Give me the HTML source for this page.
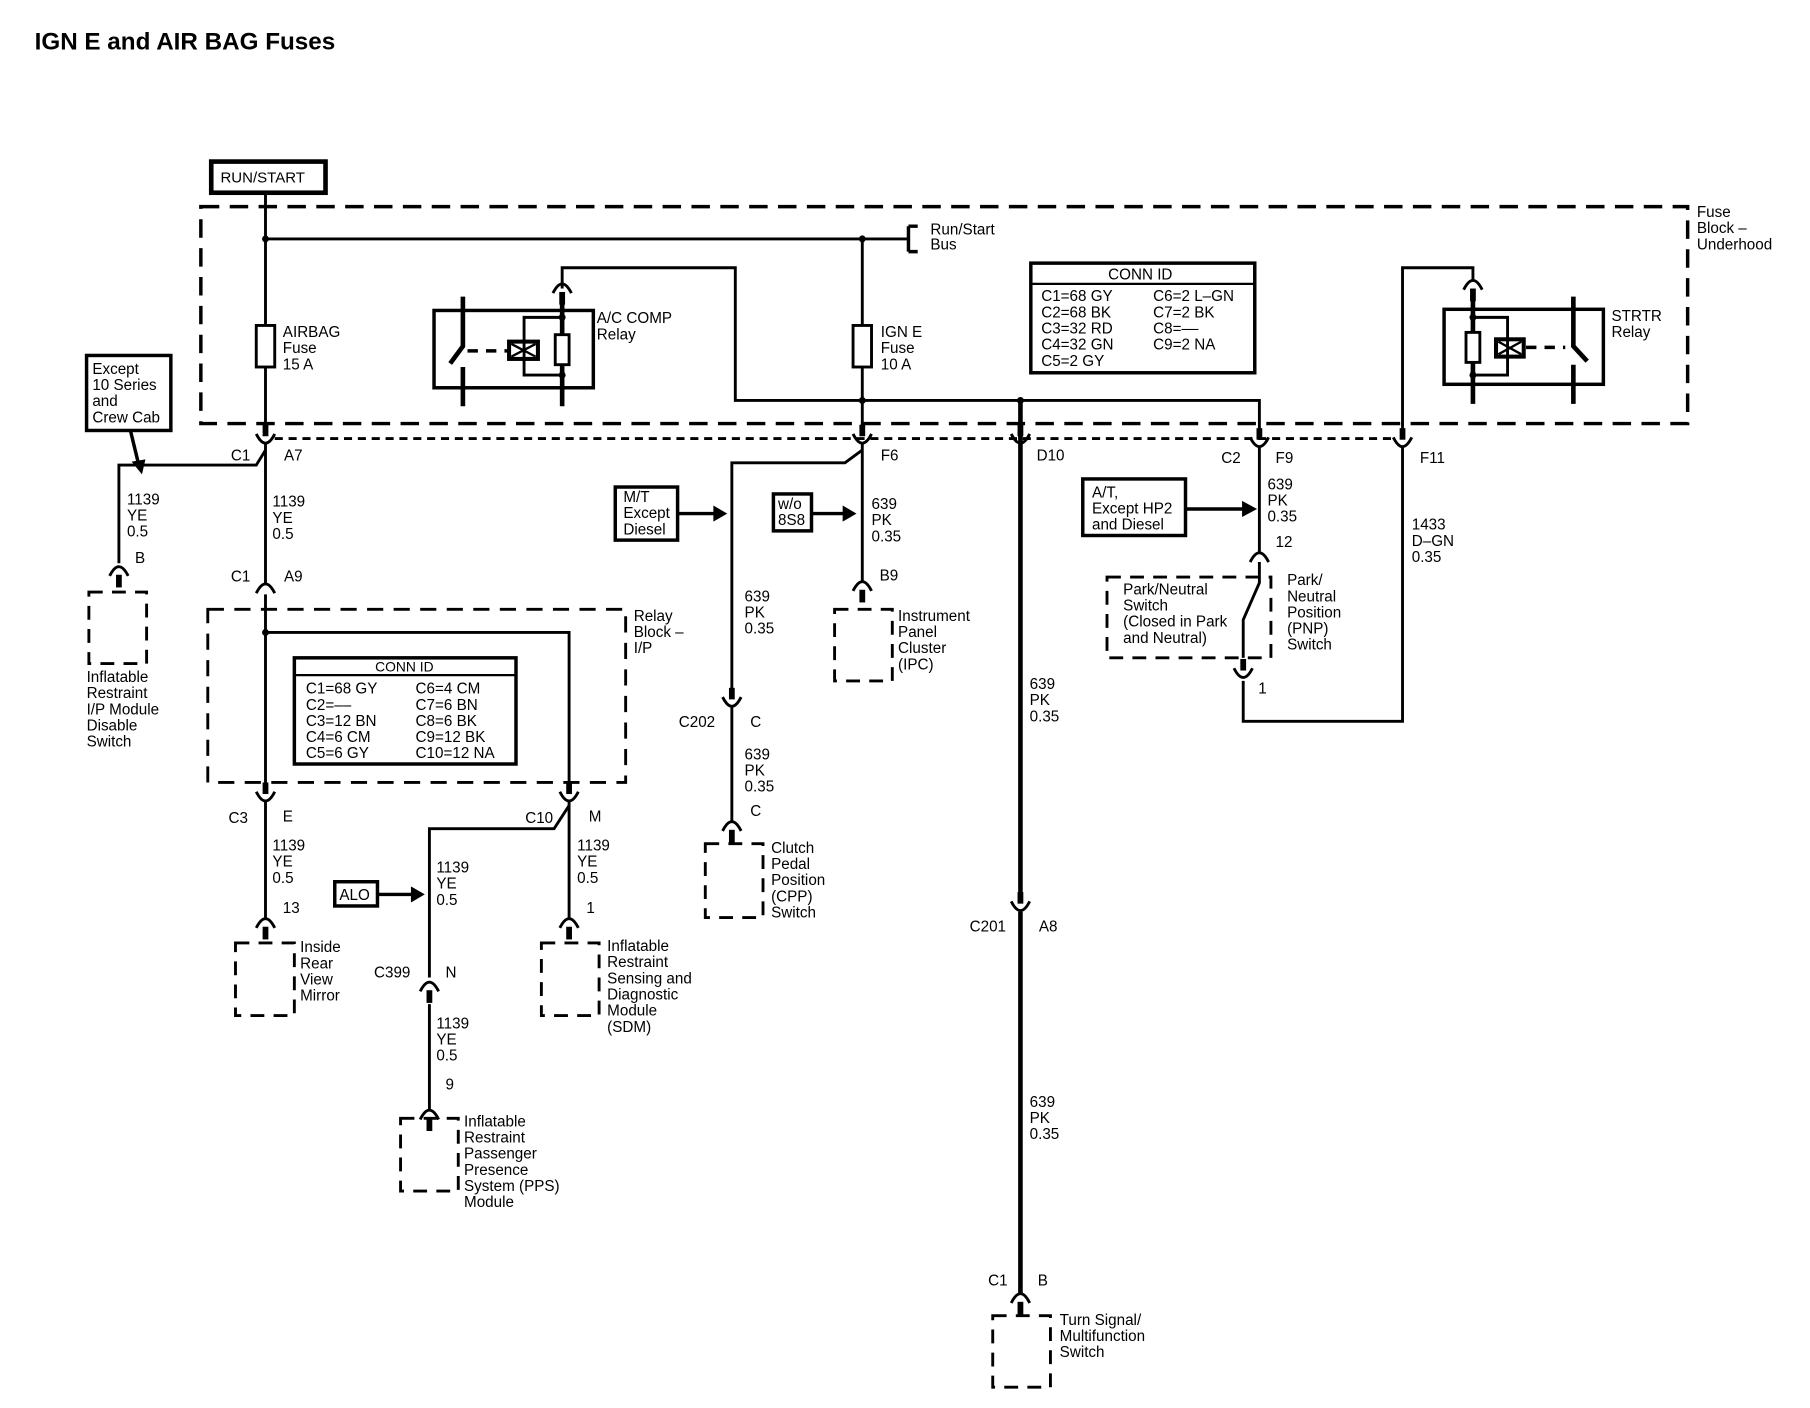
<!DOCTYPE html>
<html><head><meta charset="utf-8"><style>
html,body{margin:0;padding:0;background:#fff;}
svg{display:block;}
text{font-family:"Liberation Sans",sans-serif;font-size:13.2px;fill:#000;}
</style></head><body>
<svg width="1810" height="1408" viewBox="0 0 1568 1220" preserveAspectRatio="none" xmlns="http://www.w3.org/2000/svg">
<defs>
<g id="m"><rect x="-2.5" y="-12" width="5" height="10" fill="#000"/><path d="M-8,-4 Q0,12 8,-4" fill="none" stroke="#000" stroke-width="2.5"/></g>
<g id="f"><path d="M-8,4 Q0,-12 8,4" fill="none" stroke="#000" stroke-width="2.5"/><rect x="-2.5" y="3" width="5" height="11" fill="#000"/></g>
<g id="fa"><path d="M-8,4 Q0,-12 8,4" fill="none" stroke="#000" stroke-width="2.5"/></g>
</defs>
<rect width="1568" height="1220" fill="#fff"/>
<text x="30" y="43" style="font-size:21px;font-weight:bold">IGN E and AIR BAG Fuses</text>

<rect x="183" y="140" width="99" height="27" fill="none" stroke="#000" stroke-width="4"/>
<text x="191" y="158" style="font-size:13px">RUN/START</text>

<g fill="none" stroke="#000">
<path d="M174,179 H1462 V367 H174 Z" stroke-width="3" stroke-dasharray="16,9"/>
<path d="M238,380 H1210" stroke-width="2.5" stroke-dasharray="7,5"/>
<path d="M180,528 H542 V678 H180 Z" stroke-width="2.5" stroke-dasharray="14,9"/>
<path d="M959,500 H1101 V570 H959 Z" stroke-width="2.5" stroke-dasharray="12,8"/>
<path d="M77,513 H127 V575 H77 Z" stroke-width="2.5" stroke-dasharray="12,8"/>
<path d="M204,817 H255 V880 H204 Z" stroke-width="2.5" stroke-dasharray="12,8"/>
<path d="M469,817 H519 V880 H469 Z" stroke-width="2.5" stroke-dasharray="12,8"/>
<path d="M347,969 H397 V1032 H347 Z" stroke-width="2.5" stroke-dasharray="12,8"/>
<path d="M723,528 H773 V590 H723 Z" stroke-width="2.5" stroke-dasharray="12,8"/>
<path d="M611,731 H661 V795 H611 Z" stroke-width="2.5" stroke-dasharray="12,8"/>
<path d="M860,1140 H910 V1202 H860 Z" stroke-width="2.5" stroke-dasharray="12,8"/>

<g stroke-width="2.5">
<path d="M230,167 V375"/>
<path d="M230,207 H787"/>
<path d="M787,196 V218 M787,196 H795 M787,218 H795" stroke-width="3"/>
<path d="M747,207 V375"/>
<path d="M487,250 V232 H637 V347 H1091 V375"/>
<path d="M230,385 V505"/>
<path d="M230,390 L222,403 H103 V488"/>
<path d="M230,515 V683"/>
<path d="M230,548 H493 V683"/>
<path d="M230,693 V796"/>
<path d="M493,693 V796"/>
<path d="M493,698 L480,718 H372 V847"/>
<path d="M372,870 V962"/>
<path d="M747,385 V503"/>
<path d="M747,390 L732,401 H634 V602"/>
<path d="M634,612 V712"/>
<path d="M1091,388 V480"/>
<path d="M1091,487 V505 L1077,537 V570"/>
<path d="M1077,590 V625 H1215 V388"/>
<path d="M1215,375 V232 H1276 V243"/>
</g>
<path d="M884,347 V775" stroke-width="4"/>
<path d="M884,790 V1122" stroke-width="4"/>

<rect x="222" y="282" width="16" height="36" fill="#fff" stroke-width="2.5"/>
<rect x="739" y="282" width="16" height="36" fill="#fff" stroke-width="2.5"/>

<rect x="376" y="269" width="138" height="67" stroke-width="3"/>
<path d="M401,257 V300 L390,315 M401,318 V352" stroke-width="4"/>
<path d="M405,304 H441" stroke-width="3" stroke-dasharray="9,7"/>
<rect x="441" y="296" width="25" height="15" stroke-width="3.5"/>
<path d="M443,298 L464,309 M443,309 L464,298" stroke-width="2"/>
<path d="M487,257 V352" stroke-width="4"/>
<path d="M487,275 H454 V325 H487" stroke-width="2.5"/>
<rect x="481" y="290" width="12" height="26" fill="#fff" stroke-width="2.5"/>

<rect x="1251" y="268" width="138" height="65" stroke-width="3"/>
<path d="M1363,257 V300 L1375,313 M1363,316 V350" stroke-width="4"/>
<path d="M1322,301 H1356" stroke-width="3" stroke-dasharray="9,7"/>
<rect x="1296" y="294" width="24" height="15" stroke-width="3.5"/>
<path d="M1298,296 L1318,307 M1298,307 L1318,296" stroke-width="2"/>
<path d="M1276,255 V350" stroke-width="4"/>
<path d="M1276,275 H1306 V325 H1276" stroke-width="2.5"/>
<rect x="1270" y="288" width="12" height="26" fill="#fff" stroke-width="2.5"/>

<rect x="75" y="308" width="73" height="65" stroke-width="3"/>
<rect x="533" y="422" width="54" height="46" stroke-width="3"/>
<rect x="670" y="428" width="33" height="32" stroke-width="3"/>
<rect x="938" y="415" width="89" height="49" stroke-width="3"/>
<rect x="290" y="764" width="37" height="21" stroke-width="3"/>
<rect x="893" y="228" width="194" height="95" stroke-width="3"/>
<path d="M893,246 H1087" stroke-width="2"/>
<rect x="255" y="570" width="192" height="92" stroke-width="3"/>
<path d="M255,585 H447" stroke-width="2"/>
<g stroke-width="3">
<path d="M113,373 L120,402"/>
<path d="M587,445 H620"/>
<path d="M703,445 H732"/>
<path d="M1027,441 H1078"/>
<path d="M327,775 H358"/>
</g>
</g>
<g fill="#000">
<path d="M114,400 L126,398 L123,411 Z"/>
<path d="M618,438 L630,445 L618,452 Z"/>
<path d="M730,438 L742,445 L730,452 Z"/>
<path d="M1076,434 L1089,441 L1076,448 Z"/>
<path d="M356,768 L368,775 L356,782 Z"/>
<circle cx="230" cy="207" r="3"/><circle cx="747" cy="207" r="3"/>
<circle cx="747" cy="347" r="3"/><circle cx="884" cy="347" r="3"/>
<circle cx="230" cy="548" r="3"/>
<circle cx="487" cy="275" r="3"/><circle cx="487" cy="325" r="3"/>
<circle cx="1276" cy="275" r="3"/><circle cx="1276" cy="325" r="3"/>
</g>

<use href="#m" x="230" y="380"/>
<use href="#m" x="747" y="380"/>
<use href="#m" x="884" y="380"/>
<use href="#m" x="1091" y="383"/>
<use href="#m" x="1215" y="383"/>
<use href="#m" x="230" y="690"/>
<use href="#m" x="493" y="690"/>
<use href="#m" x="634" y="608"/>
<use href="#m" x="884" y="785"/>
<use href="#m" x="1077" y="583"/>
<use href="#fa" x="230" y="510"/>
<use href="#fa" x="1091" y="483"/>
<use href="#f" x="487" y="250"/>
<use href="#f" x="1276" y="247"/>
<use href="#f" x="103" y="495"/>
<use href="#f" x="230" y="800"/>
<use href="#f" x="493" y="800"/>
<use href="#f" x="372" y="855"/>
<use href="#f" x="372" y="966"/>
<use href="#f" x="747" y="508"/>
<use href="#f" x="634" y="716"/>
<use href="#f" x="884" y="1125"/>

<g>
<text x="806" y="203">Run/Start</text><text x="806" y="216">Bus</text>
<text x="1470" y="188">Fuse</text><text x="1470" y="202">Block –</text><text x="1470" y="216">Underhood</text>
<text x="245" y="292">AIRBAG</text><text x="245" y="306">Fuse</text><text x="245" y="320">15 A</text>
<text x="763" y="292">IGN E</text><text x="763" y="306">Fuse</text><text x="763" y="320">10 A</text>
<text x="517" y="280">A/C COMP</text><text x="517" y="294">Relay</text>
<text x="1396" y="278">STRTR</text><text x="1396" y="292">Relay</text>
<text x="960" y="242">CONN ID</text>
<text x="902" y="261">C1=68 GY</text><text x="999" y="261">C6=2 L–GN</text>
<text x="902" y="275">C2=68 BK</text><text x="999" y="275">C7=2 BK</text>
<text x="902" y="289">C3=32 RD</text><text x="999" y="289">C8=––</text>
<text x="902" y="303">C4=32 GN</text><text x="999" y="303">C9=2 NA</text>
<text x="902" y="317">C5=2 GY</text>
<text x="325" y="582" style="font-size:12px">CONN ID</text>
<text x="265" y="601">C1=68 GY</text><text x="360" y="601">C6=4 CM</text>
<text x="265" y="615">C2=––</text><text x="360" y="615">C7=6 BN</text>
<text x="265" y="629">C3=12 BN</text><text x="360" y="629">C8=6 BK</text>
<text x="265" y="643">C4=6 CM</text><text x="360" y="643">C9=12 BK</text>
<text x="265" y="657">C5=6 GY</text><text x="360" y="657">C10=12 NA</text>
<text x="80" y="324">Except</text><text x="80" y="338">10 Series</text><text x="80" y="352">and</text><text x="80" y="366">Crew Cab</text>
<text x="200" y="399">C1</text><text x="246" y="399">A7</text>
<text x="110" y="437">1139</text><text x="110" y="451">YE</text><text x="110" y="465">0.5</text>
<text x="236" y="439">1139</text><text x="236" y="453">YE</text><text x="236" y="467">0.5</text>
<text x="117" y="488">B</text>
<text x="200" y="504">C1</text><text x="246" y="504">A9</text>
<text x="75" y="591">Inflatable</text><text x="75" y="605">Restraint</text><text x="75" y="619">I/P Module</text><text x="75" y="633">Disable</text><text x="75" y="647">Switch</text>
<text x="549" y="538">Relay</text><text x="549" y="552">Block –</text><text x="549" y="566">I/P</text>
<text x="198" y="713">C3</text><text x="245" y="712">E</text>
<text x="455" y="713">C10</text><text x="510" y="712">M</text>
<text x="236" y="737">1139</text><text x="236" y="751">YE</text><text x="236" y="765">0.5</text>
<text x="500" y="737">1139</text><text x="500" y="751">YE</text><text x="500" y="765">0.5</text>
<text x="378" y="756">1139</text><text x="378" y="770">YE</text><text x="378" y="784">0.5</text>
<text x="294" y="780">ALO</text>
<text x="245" y="791">13</text><text x="508" y="791">1</text>
<text x="260" y="825">Inside</text><text x="260" y="839">Rear</text><text x="260" y="853">View</text><text x="260" y="867">Mirror</text>
<text x="526" y="824">Inflatable</text><text x="526" y="838">Restraint</text><text x="526" y="852">Sensing and</text><text x="526" y="866">Diagnostic</text><text x="526" y="880">Module</text><text x="526" y="894">(SDM)</text>
<text x="324" y="847">C399</text><text x="386" y="847">N</text>
<text x="378" y="891">1139</text><text x="378" y="905">YE</text><text x="378" y="919">0.5</text>
<text x="386" y="944">9</text>
<text x="402" y="976">Inflatable</text><text x="402" y="990">Restraint</text><text x="402" y="1004">Passenger</text><text x="402" y="1018">Presence</text><text x="402" y="1032">System (PPS)</text><text x="402" y="1046">Module</text>
<text x="763" y="399">F6</text>
<text x="540" y="435">M/T</text><text x="540" y="449">Except</text><text x="540" y="463">Diesel</text>
<text x="674" y="441">w/o</text><text x="674" y="455">8S8</text>
<text x="755" y="441">639</text><text x="755" y="455">PK</text><text x="755" y="469">0.35</text>
<text x="762" y="503">B9</text>
<text x="778" y="538">Instrument</text><text x="778" y="552">Panel</text><text x="778" y="566">Cluster</text><text x="778" y="580">(IPC)</text>
<text x="645" y="521">639</text><text x="645" y="535">PK</text><text x="645" y="549">0.35</text>
<text x="588" y="630">C202</text><text x="650" y="630">C</text>
<text x="645" y="658">639</text><text x="645" y="672">PK</text><text x="645" y="686">0.35</text>
<text x="650" y="707">C</text>
<text x="668" y="739">Clutch</text><text x="668" y="753">Pedal</text><text x="668" y="767">Position</text><text x="668" y="781">(CPP)</text><text x="668" y="795">Switch</text>
<text x="898" y="399">D10</text>
<text x="892" y="597">639</text><text x="892" y="611">PK</text><text x="892" y="625">0.35</text>
<text x="840" y="807">C201</text><text x="900" y="807">A8</text>
<text x="892" y="959">639</text><text x="892" y="973">PK</text><text x="892" y="987">0.35</text>
<text x="856" y="1114">C1</text><text x="899" y="1114">B</text>
<text x="918" y="1148">Turn Signal/</text><text x="918" y="1162">Multifunction</text><text x="918" y="1176">Switch</text>
<text x="1058" y="401">C2</text><text x="1105" y="401">F9</text><text x="1230" y="401">F11</text>
<text x="1098" y="424">639</text><text x="1098" y="438">PK</text><text x="1098" y="452">0.35</text>
<text x="946" y="431">A/T,</text><text x="946" y="445">Except HP2</text><text x="946" y="459">and Diesel</text>
<text x="1105" y="474">12</text>
<text x="1223" y="459">1433</text><text x="1223" y="473">D–GN</text><text x="1223" y="487">0.35</text>
<text x="973" y="515">Park/Neutral</text><text x="973" y="529">Switch</text><text x="973" y="543">(Closed in Park</text><text x="973" y="557">and Neutral)</text>
<text x="1115" y="507">Park/</text><text x="1115" y="521">Neutral</text><text x="1115" y="535">Position</text><text x="1115" y="549">(PNP)</text><text x="1115" y="563">Switch</text>
<text x="1090" y="601">1</text>
</g>
</svg>
</body></html>
